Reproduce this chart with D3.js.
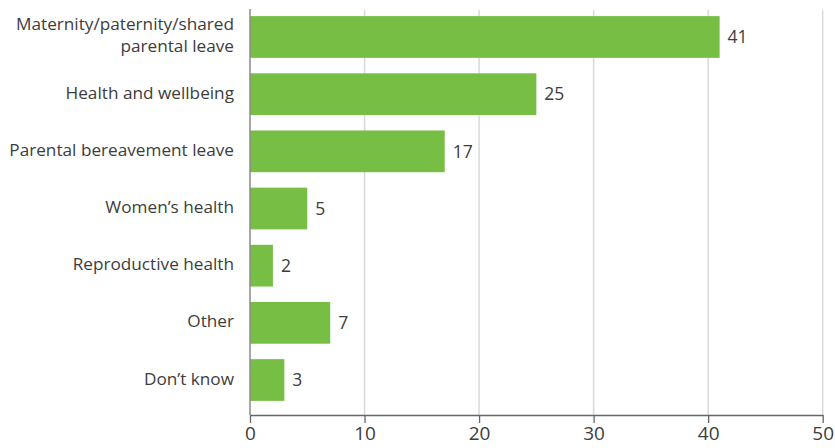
<!DOCTYPE html>
<html>
<head>
<meta charset="utf-8">
<script src="https://cdn.jsdelivr.net/npm/d3@7"></script>
<style>
  html, body { margin: 0; padding: 0; background: #fff; }
  svg text { font-family: "Open Sans", Lato, sans-serif; fill: #3d3d3d; }
</style>
</head>
<body>
<svg id="chart" width="835" height="448"></svg>
<script>
// Categories (multi-line labels split on "\n") and their counts
const categories = [
  "Maternity/paternity/shared\nparental leave",
  "Health and wellbeing",
  "Parental bereavement leave",
  "Women\u2019s health",
  "Reproductive health",
  "Other",
  "Don\u2019t know"
];
const values = [41, 25, 17, 5, 2, 7, 3];
const xTicks = [0, 10, 20, 30, 40, 50];

const svg = d3.select("#chart");

const plotLeft = 250, plotRight = 822.7, plotTop = 10, plotBottom = 415;
const fontFam = "'Open Sans', Lato, sans-serif";

const x = d3.scaleLinear().domain([0, 50]).range([plotLeft, plotRight]);
const y = d3.scaleBand()
  .domain(categories)
  .range([8.4, 408.6])
  .paddingInner(0.27)
  .paddingOuter(0.135);

// Vertical gridlines
svg.append("g")
  .selectAll("line")
  .data(xTicks.filter(d => d > 0))
  .join("line")
  .attr("x1", d => x(d)).attr("x2", d => x(d))
  .attr("y1", plotTop).attr("y2", plotBottom)
  .attr("stroke", "#d9d9d9")
  .attr("stroke-width", 1.5);

// Bars
svg.append("g")
  .selectAll("rect")
  .data(values)
  .join("rect")
  .attr("x", x(0))
  .attr("y", (d, i) => y(categories[i]))
  .attr("width", d => x(d) - x(0))
  .attr("height", y.bandwidth())
  .attr("fill", "#76bf44");

// Value labels
svg.append("g")
  .selectAll("text")
  .data(values)
  .join("text")
  .attr("x", d => x(d) + 8)
  .attr("y", (d, i) => y(categories[i]) + y.bandwidth() / 2)
  .attr("dy", "0.36em")
  .attr("font-size", 17.5)
  .text(d => d);

// Bottom axis
const xAxis = svg.append("g")
  .attr("transform", `translate(0,${plotBottom})`)
  .call(d3.axisBottom(x).tickValues(xTicks).tickSize(8).tickPadding(4).tickSizeOuter(0));
xAxis.select(".domain").attr("stroke", "#666").attr("stroke-width", 1.3);
xAxis.selectAll(".tick line").attr("stroke", "#666").attr("stroke-width", 1.3);
xAxis.selectAll(".tick text")
  .attr("font-size", 19)
  .attr("font-family", fontFam)
  .attr("fill", "#3d3d3d");

// Left axis line
svg.append("line")
  .attr("x1", plotLeft).attr("x2", plotLeft)
  .attr("y1", 9).attr("y2", plotBottom)
  .attr("stroke", "#8a8a8a")
  .attr("stroke-width", 1.5);

// Category labels: one text element per line, stacked around the band centre
const catSize = 17.2;
const lineH = 22;
const labelLines = [];
categories.forEach(c => {
  const parts = c.split("\n");
  parts.forEach((ln, k) => {
    labelLines.push({
      text: ln,
      y: y(c) + y.bandwidth() / 2 - 1 + (k - (parts.length - 1) / 2) * lineH
    });
  });
});

svg.append("g")
  .selectAll("text")
  .data(labelLines)
  .join("text")
  .attr("text-anchor", "end")
  .attr("font-size", catSize)
  .attr("x", 234)
  .attr("y", d => d.y)
  .attr("dy", "0.32em")
  .text(d => d.text);
</script>
</body>
</html>
